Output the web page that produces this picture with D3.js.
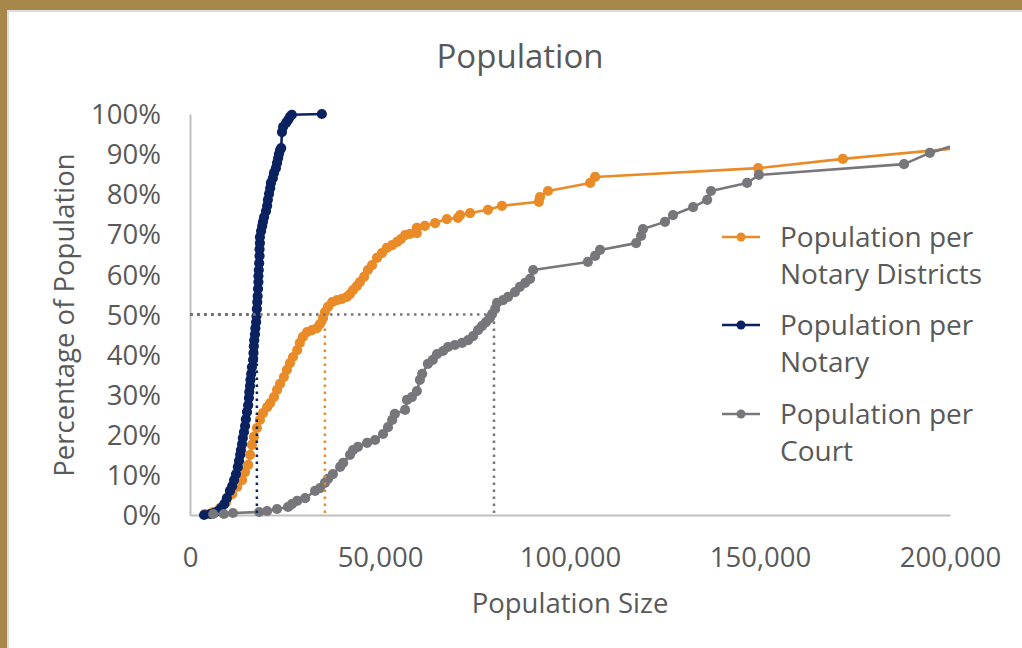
<!DOCTYPE html>
<html>
<head>
<meta charset="utf-8">
<script src="https://cdn.jsdelivr.net/npm/d3@7"></script>
<style>
  html, body { margin: 0; padding: 0; background: #fff; }
  svg { display: block; font-family: "Open Sans", sans-serif; }
</style>
</head>
<body>
<svg id="chart" width="1022" height="648"></svg>
<script>
// Cumulative share of the population (%) reached by units up to a given population size

// Population per Notary Districts
const districtsPop = [3900,6100,7900,9500,11100,12400,13700,14500,15300,15800,16300,16800,17600,18400,19200,20300,21100,22100,22900,23700,24700,25500,26300,27100,28200,28900,29700,30800,32100,33400,34200,35000,35500,36300,37400,38700,40000,41300,42100,42900,43900,44700,45800,46800,47900,49200,50500,51800,53200,54500,55500,56600,57900,59700,59700,61800,64500,67600,70500,71100,73700,78400,82100,91800,92100,94200,105300,106600,149500,171800,239500];
const districtsPct = [0.25,0.75,1.7,3.2,5.2,7.0,8.7,10.7,12.5,15.0,17.5,19.5,21.7,23.7,25.4,26.9,27.9,29.4,31.2,32.7,34.4,36.2,37.9,39.4,41.1,42.9,44.4,45.6,46.1,46.6,47.6,49.1,50.6,51.9,53.1,53.6,53.9,54.4,55.1,56.1,57.1,58.1,59.4,61.1,62.3,64.1,65.3,66.6,67.3,68.1,68.8,69.8,70.1,70.3,71.6,72.1,72.8,73.8,74.1,74.8,75.3,76.1,77.1,78.1,79.3,80.8,82.8,84.3,86.5,88.8,94.8];

// Population per Notary
const notaryPop = [3700,5300,6300,7400,8200,9000,9700,10500,11100,11600,12100,12600,12900,13200,13400,13700,13900,14200,14500,14700,15000,15300,15500,15600,15800,15900,16100,16300,16600,16700,16800,16900,17100,17200,17400,17500,17600,17700,17800,17900,18000,18000,18100,18200,18300,18300,18400,18400,18700,19000,19200,19500,20000,20300,20500,20800,21100,21300,21800,22100,22600,22900,23200,23400,23700,24000,24200,24500,25300,25800,26300,26800,34700];
const notaryPct = [0,0.25,0.5,1.0,1.7,2.7,4.2,6.0,7.2,8.7,10.2,12.0,13.5,15.0,16.2,17.7,19.2,20.7,22.2,23.9,25.7,27.4,29.2,30.7,32.2,33.7,35.2,36.9,38.7,40.4,42.1,43.6,45.1,46.6,48.1,49.6,51.4,53.1,54.6,56.4,58.1,59.6,61.1,62.8,64.6,66.3,67.8,69.3,70.8,72.1,73.1,74.3,75.8,77.1,78.6,80.1,81.5,82.8,84.0,85.3,86.5,87.8,89.0,90.0,91.0,91.5,95.5,96.8,97.8,98.5,99.3,99.8,100];

// Population per Court
const courtPop = [6100,8900,11300,18200,20300,22900,25800,26800,28200,30300,32900,34200,35500,36300,37600,39500,40300,42100,42900,44200,46600,48700,50800,52100,53200,53900,56600,57100,58400,59700,60500,61100,62600,63900,65000,66600,67900,69700,71600,73200,74500,75800,76800,77900,78900,79500,80300,80800,82400,83700,85500,86800,88200,89500,90300,104700,106600,107900,117400,118700,119200,125000,127100,132400,136100,137100,146600,149700,187900,194700,213200];
const courtPct = [0.25,0.25,0.5,0.75,1.0,1.5,2.0,2.7,3.5,4.2,6.0,6.7,8.0,9.0,10.2,12.0,13.0,15.0,16.2,17.0,18.0,18.7,20.2,21.9,23.7,25.2,26.2,28.7,29.4,30.9,33.7,35.2,37.7,38.7,40.1,40.9,41.9,42.4,42.9,43.6,44.6,46.1,47.1,48.1,49.1,50.1,51.4,52.9,53.6,54.4,55.6,56.9,57.9,58.9,61.1,63.1,64.6,66.1,67.8,69.6,71.3,73.1,74.8,76.8,78.6,80.8,82.8,84.8,87.5,90.3,95.8];

// Population size at which each series reaches 50%
const seriesNames = ["Population per Notary Districts", "Population per Notary", "Population per Court"];
const medianPop = [35500, 17600, 80000];
const medianPct = 50;

const xTicks = [0, 50000, 100000, 150000, 200000];
const yTicks = [0, 10, 20, 30, 40, 50, 60, 70, 80, 90, 100];

const colors = ["#E98B27", "#0B2260", "#77777B"];
const textColor = "#595959";
const axisColor = "#BFBFBF";

const W = 1022, H = 648;
const plot = { left: 190, right: 950, top: 114, bottom: 515 };
const markerR = 5.1;

const svg = d3.select("#chart");

// Frame: gold band at top and along the left edge, with a faint inner shadow
svg.append("rect").attr("x", 0).attr("y", 0).attr("width", W).attr("height", H).attr("fill", "#fff");
svg.append("rect").attr("x", 7).attr("y", 10).attr("width", W - 7).attr("height", 2).attr("fill", "#DCDCDC");
svg.append("rect").attr("x", 7).attr("y", 10).attr("width", 2).attr("height", H - 10).attr("fill", "#DCDCDC");
svg.append("rect").attr("x", 0).attr("y", 0).attr("width", W).attr("height", 10).attr("fill", "#A8874A");
svg.append("rect").attr("x", 0).attr("y", 0).attr("width", 7).attr("height", H).attr("fill", "#A8874A");

const x = d3.scaleLinear().domain([0, 200000]).range([plot.left, plot.right]);
const y = d3.scaleLinear().domain([0, 100]).range([plot.bottom, plot.top]);

// Title
svg.append("text")
  .attr("x", 520).attr("y", 68)
  .attr("text-anchor", "middle")
  .attr("fill", textColor)
  .attr("font-size", 33)
  .text("Population");

// Axes
const xAxis = svg.append("g")
  .attr("transform", `translate(0,${plot.bottom})`)
  .call(d3.axisBottom(x).tickValues(xTicks).tickSize(0).tickPadding(0)
    .tickFormat(d => d === 0 ? "0" : d3.format(",")(d)));
xAxis.select(".domain").attr("stroke", axisColor).attr("stroke-width", 2);
xAxis.selectAll("text")
  .attr("fill", textColor).attr("font-size", 27.5)
  .attr("font-family", "Open Sans, sans-serif")
  .attr("dy", 0).attr("y", 52);

const yAxis = svg.append("g")
  .attr("transform", `translate(${plot.left},0)`)
  .call(d3.axisLeft(y).tickValues(yTicks).tickSize(0).tickPadding(0)
    .tickFormat(d => d + "%"));
yAxis.select(".domain").attr("stroke", axisColor).attr("stroke-width", 2);
yAxis.selectAll("text")
  .attr("fill", textColor).attr("font-size", 27.5)
  .attr("font-family", "Open Sans, sans-serif")
  .attr("x", -29).attr("dy", "0.35em");

// Axis titles
svg.append("text")
  .attr("transform", "translate(74,315) rotate(-90)")
  .attr("text-anchor", "middle")
  .attr("fill", textColor).attr("font-size", 27.5)
  .text("Percentage of Population");

svg.append("text")
  .attr("x", 570).attr("y", 613)
  .attr("text-anchor", "middle")
  .attr("fill", textColor).attr("font-size", 27.5)
  .text("Population Size");

// Series, clipped at the right edge of the plot area
svg.append("clipPath").attr("id", "plotClip")
  .append("rect").attr("x", 0).attr("y", 0).attr("width", plot.right).attr("height", H);

const seriesData = [
  d3.zip(districtsPop, districtsPct),
  d3.zip(notaryPop, notaryPct),
  d3.zip(courtPop, courtPct)
];

const line = d3.line().x(d => x(d[0])).y(d => y(d[1]));
const seriesLayer = svg.append("g").attr("clip-path", "url(#plotClip)");

seriesData.forEach((pts, i) => {
  const g = seriesLayer.append("g");
  g.append("path")
    .attr("d", line(pts))
    .attr("fill", "none")
    .attr("stroke", colors[i])
    .attr("stroke-width", 2.6)
    .attr("stroke-linejoin", "round");
  g.selectAll("circle").data(pts).join("circle")
    .attr("cx", d => x(d[0]))
    .attr("cy", d => y(d[1]))
    .attr("r", markerR)
    .attr("fill", colors[i]);
});

// Dotted guides marking where each series reaches 50%
const guides = svg.append("g");
medianPop.forEach((m, i) => {
  guides.append("path")
    .attr("d", `M${x(0)},${y(medianPct)}H${x(m)}`)
    .attr("stroke", colors[i]).attr("stroke-width", 2.5)
    .attr("stroke-dasharray", "2.5,4.5").attr("fill", "none");
  guides.append("path")
    .attr("d", `M${x(m)},${y(medianPct)}V${y(0)}`)
    .attr("stroke", colors[i]).attr("stroke-width", 2.5)
    .attr("stroke-dasharray", "2.5,4.5").attr("fill", "none");
});

// Legend
const legendRows = [
  ["Population per", "Notary Districts"],
  ["Population per", "Notary"],
  ["Population per", "Court"]
];
const legendY = [237, 325, 414];
const legend = svg.append("g");
legendRows.forEach((rows, i) => {
  const ly = legendY[i];
  legend.append("line")
    .attr("x1", 722).attr("x2", 760).attr("y1", ly).attr("y2", ly)
    .attr("stroke", colors[i]).attr("stroke-width", 2.6);
  legend.append("circle")
    .attr("cx", 741).attr("cy", ly).attr("r", markerR - 0.6).attr("fill", colors[i]);
  rows.forEach((t, j) => {
    legend.append("text")
      .attr("x", 780).attr("y", ly + 10 + j * 37)
      .attr("fill", textColor).attr("font-size", 28)
      .text(t);
  });
});
</script>
</body>
</html>
